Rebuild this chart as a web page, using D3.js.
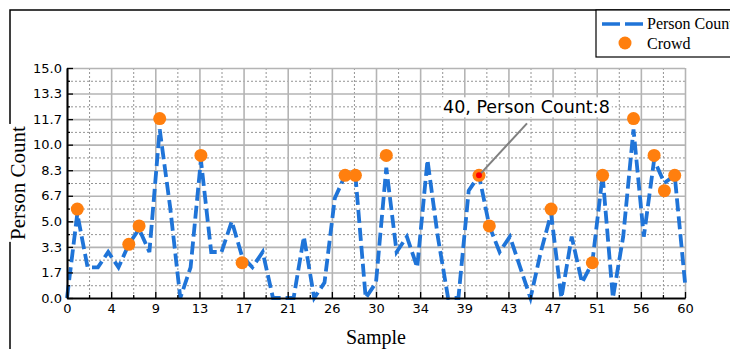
<!DOCTYPE html>
<html>
<head>
<meta charset="utf-8">
<script src="https://cdn.jsdelivr.net/npm/d3@7"></script>
<style>
  body { margin: 0; background: #fff; }
  svg { display: block; }
</style>
</head>
<body>
<svg id="chart" width="730" height="349"></svg>
<script>
// person count per sample (sample index = position)
const personCount = [
  0, 5.5, 2, 2, 3, 2, 3.5, 4.5, 3, 11,
  6, 0, 2, 9, 3, 3, 5, 2.7, 2, 3,
  0, 0, 0, 4, 0, 1, 6.5, 8, 8, 0,
  1, 8.5, 3, 4, 2, 9, 4, 0, 0, 7,
  8, 4.7, 3, 4, 2, 0, 3, 5.5, 0, 4,
  1, 2.3, 8, 0, 4, 11, 4, 9, 7.5, 8,
  1
];
const crowdSamples = [1, 6, 7, 9, 13, 17, 27, 28, 31, 40, 41, 47, 51, 52, 55, 57, 58, 59];
const crowdValues = [5.8, 3.5, 4.7, 11.7, 9.3, 2.3, 8, 8, 9.3, 8, 4.7, 5.8, 2.3, 8, 11.7, 9.3, 7, 8];
const xTickLabels = ['0', '4', '9', '13', '17', '21', '26', '30', '34', '39', '43', '47', '51', '56', '60'];
const yTickLabels = ['0.0', '1.7', '3.3', '5.0', '6.7', '8.3', '10.0', '11.7', '13.3', '15.0'];
const highlightSample = 40;
const highlightText = '40, Person Count:8';

const svg = d3.select('#chart');
const plot = { left: 67, right: 685, top: 68, bottom: 298 };

const x = d3.scaleLinear().domain([0, 60]).range([plot.left, plot.right]);
const y = d3.scaleLinear().domain([0, 15]).range([plot.bottom, plot.top]);

const xMajor = xTickLabels.map((d, i) => i * 60 / (xTickLabels.length - 1));
const yMajor = yTickLabels.map((d, i) => i * 15 / (yTickLabels.length - 1));
const xMinor = xMajor.slice(1).map((d, i) => (d + xMajor[i]) / 2);
const yMinor = yMajor.slice(1).map((d, i) => (d + yMajor[i]) / 2);
const plotH = plot.bottom - plot.top;
const plotW = plot.right - plot.left;

// outer frame
svg.append('path')
  .attr('d', 'M10,349 V10 H730')
  .attr('fill', 'none')
  .attr('stroke', '#000')
  .attr('stroke-width', 1.5);

// grid: minor dotted, major solid
function grid(axis, transform, color, width, dash) {
  svg.append('g')
    .attr('transform', transform)
    .call(axis)
    .call(g => g.select('.domain').remove())
    .selectAll('line')
    .attr('stroke', color)
    .attr('stroke-width', width)
    .attr('stroke-dasharray', dash);
}
grid(d3.axisBottom(x).tickValues(xMinor).tickSize(-plotH).tickFormat(''), `translate(0,${plot.bottom})`, '#949494', 1, '2,2');
grid(d3.axisLeft(y).tickValues(yMinor).tickSize(-plotW).tickFormat(''), `translate(${plot.left},0)`, '#949494', 1, '2,2');
grid(d3.axisBottom(x).tickValues(xMajor).tickSize(-plotH).tickFormat(''), `translate(0,${plot.bottom})`, '#b4b4b4', 1.6, null);
grid(d3.axisLeft(y).tickValues(yMajor).tickSize(-plotW).tickFormat(''), `translate(${plot.left},0)`, '#b4b4b4', 1.6, null);

// person count line
const line = d3.line()
  .x((d, i) => x(i))
  .y(d => y(d));

svg.append('path')
  .datum(personCount)
  .attr('d', line)
  .attr('fill', 'none')
  .attr('stroke', '#1f74d8')
  .attr('stroke-width', 3.8)
  .attr('stroke-dasharray', '13,5');

// crowd markers
svg.append('g')
  .selectAll('circle')
  .data(crowdSamples)
  .enter()
  .append('circle')
  .attr('cx', d => x(d))
  .attr('cy', (d, i) => y(crowdValues[i]))
  .attr('r', 6.5)
  .attr('fill', '#ff7f0e');

// highlighted point + annotation
const hx = x(highlightSample);
const hy = y(personCount[highlightSample]);
svg.append('line')
  .attr('x1', hx).attr('y1', hy)
  .attr('x2', hx + 48).attr('y2', hy - 52)
  .attr('stroke', '#808080')
  .attr('stroke-width', 2);
svg.append('circle')
  .attr('cx', hx).attr('cy', hy)
  .attr('r', 3)
  .attr('fill', '#ff0000');

const note = svg.append('g');
const noteText = note.append('text')
  .attr('x', hx - 36)
  .attr('y', hy - 62)
  .attr('font-family', 'DejaVu Sans')
  .attr('font-size', 17.5)
  .attr('fill', '#000')
  .text(highlightText);
const bb = noteText.node().getBBox();
note.insert('rect', 'text')
  .attr('x', bb.x - 2).attr('y', bb.y)
  .attr('width', bb.width + 4).attr('height', bb.height)
  .attr('fill', '#fff');

// axes with inward ticks
function styleAxis(g) {
  g.select('.domain').attr('stroke', '#000').attr('stroke-width', 1.6);
  g.selectAll('line').attr('stroke', '#000').attr('stroke-width', 1.3);
  g.selectAll('text')
    .attr('font-family', 'DejaVu Sans')
    .attr('font-size', 13)
    .attr('fill', '#000');
}
svg.append('g')
  .attr('transform', `translate(0,${plot.bottom})`)
  .call(d3.axisBottom(x).tickValues(xMinor).tickSize(-3).tickSizeOuter(0).tickFormat(''))
  .call(styleAxis);
svg.append('g')
  .attr('transform', `translate(${plot.left},0)`)
  .call(d3.axisLeft(y).tickValues(yMinor).tickSize(-3).tickSizeOuter(0).tickFormat(''))
  .call(styleAxis);
svg.append('g')
  .attr('transform', `translate(0,${plot.bottom})`)
  .call(d3.axisBottom(x).tickValues(xMajor).tickSize(-6).tickSizeOuter(0).tickPadding(6)
    .tickFormat((d, i) => xTickLabels[i]))
  .call(styleAxis);
svg.append('g')
  .attr('transform', `translate(${plot.left},0)`)
  .call(d3.axisLeft(y).tickValues(yMajor).tickSize(-6).tickSizeOuter(0).tickPadding(5)
    .tickFormat((d, i) => yTickLabels[i]))
  .call(styleAxis);

// axis titles
svg.append('text')
  .attr('x', (plot.left + plot.right) / 2)
  .attr('y', 344)
  .attr('text-anchor', 'middle')
  .attr('font-family', 'Liberation Serif')
  .attr('font-size', 20)
  .text('Sample');

const yTitle = svg.append('g').attr('transform', `translate(25,${(plot.top + plot.bottom) / 2}) rotate(-90)`);
const yTitleText = yTitle.append('text')
  .attr('text-anchor', 'middle')
  .attr('font-family', 'Liberation Serif')
  .attr('font-size', 21)
  .text('Person Count');
const yb = yTitleText.node().getBBox();
yTitle.insert('rect', 'text')
  .attr('x', yb.x - 2).attr('y', yb.y)
  .attr('width', yb.width + 4).attr('height', yb.height)
  .attr('fill', '#fff');

// legend (cut by the right edge, as in the source)
const legend = svg.append('g').attr('transform', 'translate(596,10)');
legend.append('rect')
  .attr('width', 150).attr('height', 47)
  .attr('fill', '#fff')
  .attr('stroke', '#000')
  .attr('stroke-width', 1.2);
legend.append('line')
  .attr('x1', 6).attr('x2', 50).attr('y1', 14).attr('y2', 14)
  .attr('stroke', '#1f74d8')
  .attr('stroke-width', 3.5)
  .attr('stroke-dasharray', '18,5');
legend.append('circle')
  .attr('cx', 29).attr('cy', 33).attr('r', 6.5)
  .attr('fill', '#ff7f0e');
legend.append('text')
  .attr('x', 51).attr('y', 19)
  .attr('font-family', 'Liberation Serif')
  .attr('font-size', 16)
  .text('Person Count');
legend.append('text')
  .attr('x', 51).attr('y', 39)
  .attr('font-family', 'Liberation Serif')
  .attr('font-size', 16)
  .text('Crowd');
</script>
</body>
</html>
